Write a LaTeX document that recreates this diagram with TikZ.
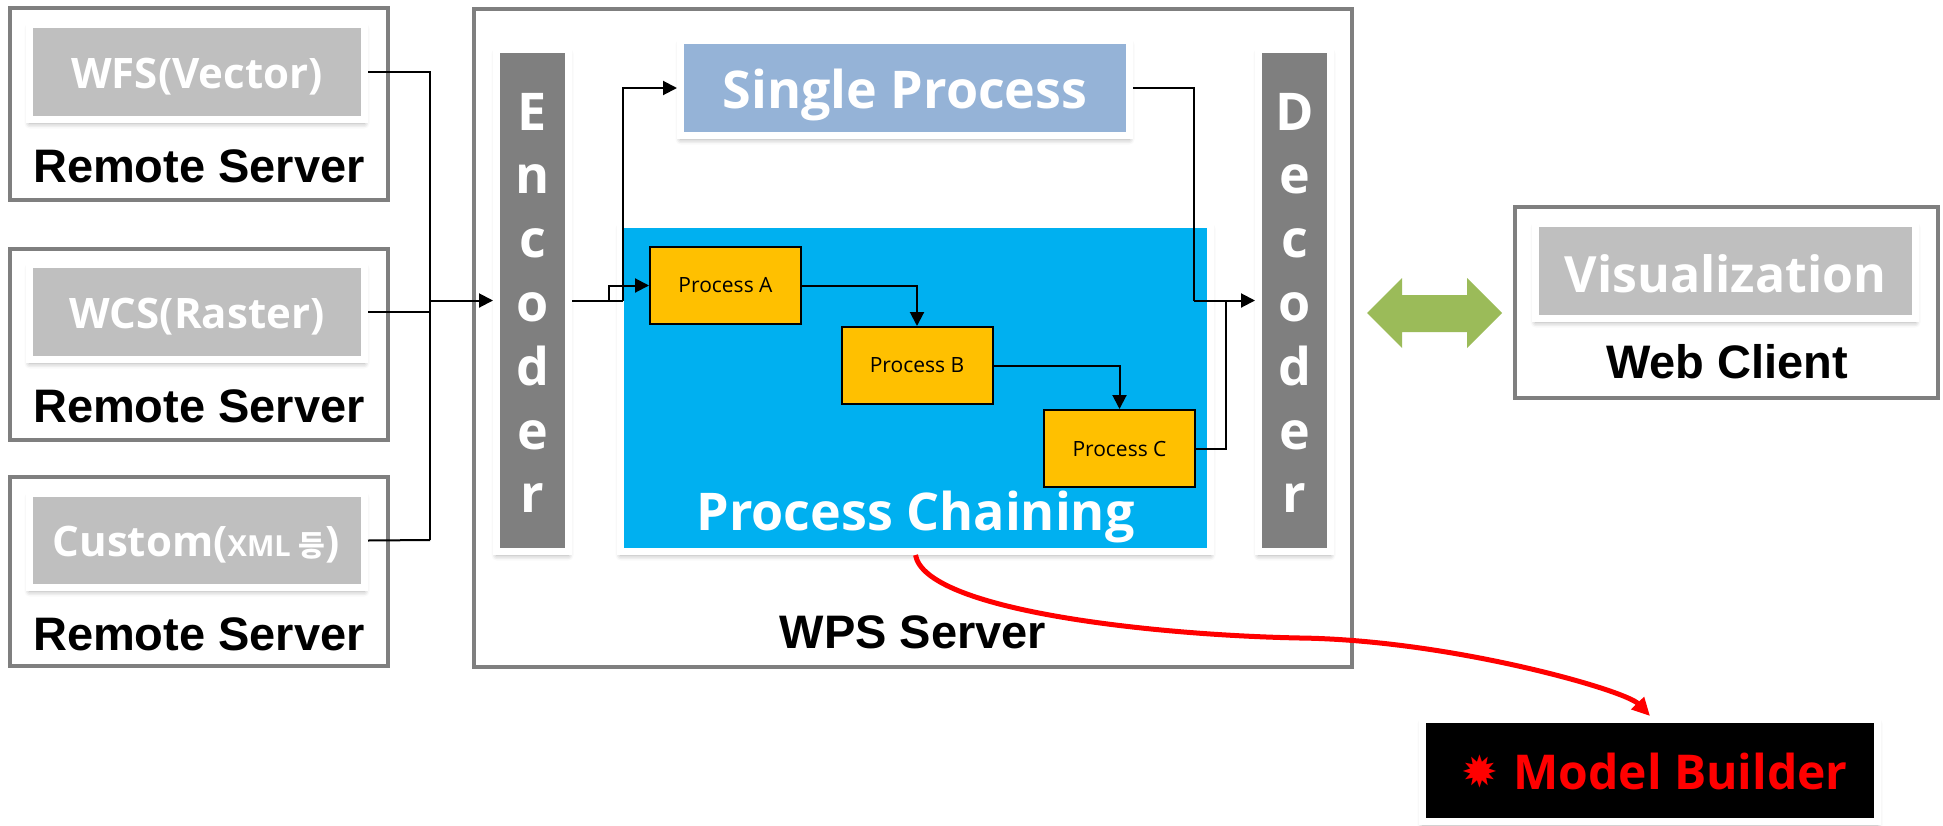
\documentclass[tikz,border=0pt]{standalone}
\usepackage{fontspec}
\usetikzlibrary{arrows.meta,shadows.blur}
\newfontfamily\uifont{Open Sans}
\newfontfamily\capfont{Liberation Sans}
\newfontfamily\krfont{Noto Sans CJK KR}
\newfontfamily\symfont{DejaVu Sans}
\newcommand\fsz[1]{\fontsize{#1}{#1}\selectfont}
\definecolor{framegray}{HTML}{7F7F7F}
\definecolor{tilegray}{HTML}{BFBFBF}
\definecolor{spblue}{HTML}{95B3D7}
\definecolor{chainblue}{HTML}{00B0F0}
\definecolor{procyellow}{HTML}{FFC000}
\definecolor{biarrow}{HTML}{9BBB59}
\definecolor{alertred}{HTML}{FF0000}
\begin{document}
\begin{tikzpicture}[x=1pt,y=-1pt,
  outerbox/.style={draw=framegray, line width=4pt, inner sep=0pt},
  tile/.style={draw=white, line width=7pt, inner sep=0pt,
    blur shadow={shadow xshift=0pt, shadow yshift=-4pt, shadow blur radius=5pt, shadow opacity=35}},
  caption/.style={font=\capfont\bfseries\fsz{47}, text=black, inner sep=0pt, anchor=base},
  tiletext/.style={font=\uifont\bfseries\fsz{42}, text=white, inner sep=0pt, anchor=base},
  bigtext/.style={font=\uifont\bfseries\fsz{52}, text=white, inner sep=0pt, anchor=base},
  procbox/.style={draw=black, line width=2pt, fill=procyellow, minimum width=151pt, minimum height=77pt,
    inner sep=0pt, font=\uifont\fsz{21}},
  conn/.style={draw=black, line width=2pt},
  arr/.style={conn, -{Triangle[length=14pt,width=14pt]}}
]
\useasboundingbox (0,0) rectangle (1943,825);

% ---------- remote servers ----------
\node[outerbox, minimum width=378pt, minimum height=192pt] (rs1) at (199,104) {};
\node[outerbox, minimum width=378pt, minimum height=191pt] (rs2) at (199,344.5) {};
\node[outerbox, minimum width=378pt, minimum height=189pt] (rs3) at (199,571.5) {};

\node[tile, fill=tilegray, minimum width=335pt, minimum height=95pt] (wfs) at (197,72) {};
\node[tile, fill=tilegray, minimum width=335pt, minimum height=95pt] (wcs) at (197,312) {};
\node[tile, fill=tilegray, minimum width=335pt, minimum height=94pt] (custom) at (197,540.5) {};

\node[tiletext] (wfs-t) at (197,88) {WFS(Vector)};
\node[tiletext] (wcs-t) at (197,328) {WCS(Raster)};
\node[tiletext] (custom-t) at (196,556) {Custom({\fsz{29}XML {\krfont 등}})};

\node[caption] (rs1-t) at (199,182) {Remote Server};
\node[caption] (rs2-t) at (199,422) {Remote Server};
\node[caption] (rs3-t) at (199,650) {Remote Server};

% ---------- WPS server ----------
\node[outerbox, minimum width=878pt, minimum height=658pt] (wps) at (913,338) {};
\node[caption] (wps-t) at (913,648) {WPS Server};

\node[tile, fill=framegray, minimum width=72pt, minimum height=502pt] (enc) at (532.5,300.5) {};
\node[tile, fill=framegray, minimum width=72pt, minimum height=502pt] (dec) at (1294.5,300.5) {};
\foreach \ch [count=\i from 0] in {E,n,c,o,d,e,r}
  \node[bigtext] (enc-\i) at (532.5,130+63.8*\i) {\ch};
\foreach \ch [count=\i from 0] in {D,e,c,o,d,e,r}
  \node[bigtext] (dec-\i) at (1294.5,130+63.8*\i) {\ch};

\node[tile, fill=spblue, minimum width=449pt, minimum height=95pt] (sp) at (905,88) {};
\node[bigtext] (sp-t) at (905,108) {Single Process};

\node[tile, fill=chainblue, minimum width=590pt, minimum height=327pt] (chain) at (915.5,388) {};
\node[bigtext] (chain-t) at (915.5,530) {Process Chaining};

\node[procbox] (pa) at (725.5,285.5) {Process A};
\node[procbox] (pb) at (917,365.5) {Process B};
\node[procbox] (pc) at (1119.5,448.5) {Process C};

% ---------- web client ----------
\node[outerbox, minimum width=423pt, minimum height=191pt] (web) at (1726.5,302.5) {};
\node[tile, fill=tilegray, minimum width=380pt, minimum height=95pt] (vis) at (1725.5,271) {};
\node[bigtext, font=\uifont\bfseries\fsz{50}] (vis-t) at (1725.5,292) {Visualization};
\node[caption] (web-t) at (1727,378) {Web Client};

% two-way exchange between decoder and client
\fill[biarrow] (1367,313) -- (1402,278) -- (1402,295) -- (1467,295) -- (1467,278) -- (1502,313)
  -- (1467,348) -- (1467,332) -- (1402,332) -- (1402,348) -- cycle;

% ---------- model builder ----------
\node[tile, fill=black, minimum width=455pt, minimum height=102pt] (mb) at (1650,770.5) {};
\node[font=\symfont\fsz{44}, text=alertred, inner sep=0pt] (mb-star) at (1480,771) {✹};
\node[font=\uifont\bfseries\fsz{48}, text=alertred, inner sep=0pt, anchor=base] (mb-t) at (1680.5,789) {Model Builder};

% ---------- connectors ----------
\coordinate (bus-top) at (430,72);
\coordinate (bus-bot) at (430,540);
\coordinate (bus-out) at (430,300.5);
\draw[conn] (wfs.east) -- (bus-top) -- (bus-bot);
\draw[conn] (wcs.east) -- (wcs.east -| bus-top);
\draw[conn] (custom.east) -- (bus-bot);
\draw[arr] (bus-out) -- (enc.west);

\coordinate (split-a) at (609,300.5);
\coordinate (split-s) at (623,300.5);
\draw[conn] (enc.east) -- (split-s);
\draw[arr] (split-a) |- (pa.west);
\draw[arr] (split-s) |- (sp.west);

\draw[arr] (pa.east) -| (pb.north);
\draw[arr] (pb.east) -| (pc.north);

\coordinate (join-s) at (1194,300.5);
\coordinate (join-c) at (1226,300.5);
\draw[conn] (sp.east) -| (join-s);
\draw[conn] (pc.east) -| (join-c);
\draw[arr] (join-s) -- (dec.west);

\draw[alertred, line width=5pt, -{Triangle[length=18pt,width=17pt]}]
  (chain.south) .. controls (925,610) and (1150,635) .. (1300,638)
  .. controls (1450,640) and (1625,690) .. (mb.north);
\end{tikzpicture}
\end{document}
